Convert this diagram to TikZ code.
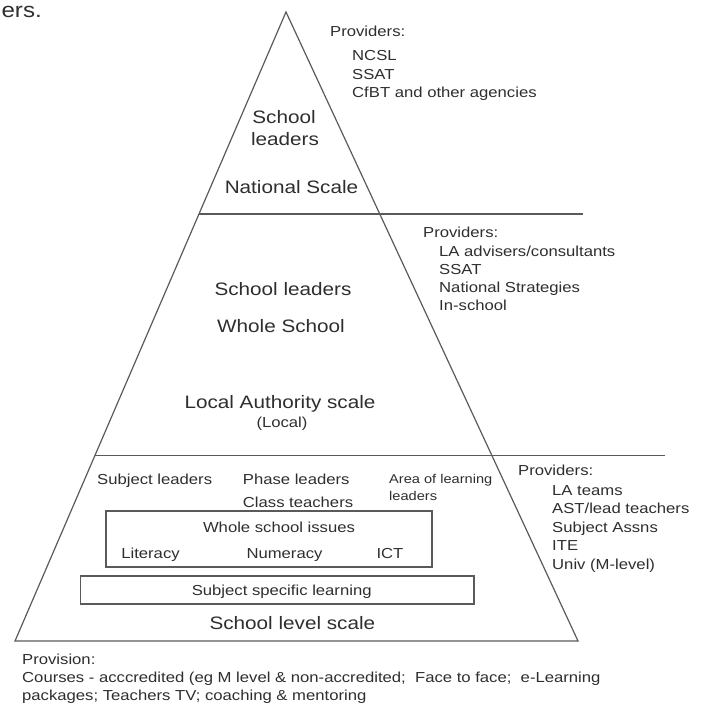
\documentclass[tikz,border=0pt]{standalone}
\usepackage{fontspec}
\setmainfont{Liberation Sans}[FakeStretch=1.15]
\definecolor{ink}{HTML}{2E2E2E}
\definecolor{rulec}{HTML}{5A5A5A}
\begin{document}
\begin{tikzpicture}[x=1pt,y=-1pt,
  edge/.style={draw=rulec, line width=1.2pt, line join=miter},
  sml/.style={font=\fontsize{14.5}{17}\selectfont, text=ink, inner sep=0pt, anchor=base west},
  smc/.style={font=\fontsize{14.5}{17}\selectfont, text=ink, inner sep=0pt, anchor=base},
  lgc/.style={font=\fontsize{18}{21}\selectfont, text=ink, inner sep=0pt, anchor=base},
  arl/.style={font=\fontsize{12.7}{15}\selectfont, text=ink, inner sep=0pt, anchor=base west},
  captxt/.style={font=\fontsize{21}{24}\selectfont, text=ink, inner sep=0pt, anchor=base east}]
\useasboundingbox (0,0) rectangle (704,704);

% pyramid
\coordinate (apex) at (286,12);
\coordinate (bl) at (15,641);
\coordinate (br) at (578,641);
\coordinate (d1l) at (199,214);
\coordinate (d1r) at (583,214);
\coordinate (d2l) at (95,455.5);
\coordinate (d2r) at (665,455.5);
\draw[edge] (apex) -- (bl) -- (br) -- cycle;
\draw[edge] (d1l) -- (d1r);
\draw[edge] (d2l) -- (d2r);

% boxes
\draw[edge, line width=1.1pt] (106,511) rectangle (432,567);
\draw[edge, line width=1.1pt] (80.7,576) rectangle (474,604);

% caption remnant
\node[captxt] (ers) at (42,17) {ers.};

% top tier
\node[sml] (p1) at (330,36) {Providers:};
\node[sml] (p1a) at (352,60) {NCSL};
\node[sml] (p1b) at (352,79) {SSAT};
\node[sml] (p1c) at (352,97) {CfBT and other agencies};
\node[lgc] (t1a) at (284,123) {School};
\node[lgc] (t1b) at (285,145) {leaders};
\node[lgc] (t1c) at (291.5,193) {National Scale};

% middle tier
\node[sml] (p2) at (423,237) {Providers:};
\node[sml] (p2a) at (439,256) {LA advisers/consultants};
\node[sml] (p2b) at (439,274) {SSAT};
\node[sml] (p2c) at (439,292) {National Strategies};
\node[sml] (p2d) at (439,310) {In-school};
\node[lgc] (t2a) at (283,295) {School leaders};
\node[lgc] (t2b) at (281,332) {Whole School};
\node[lgc] (t2c) at (280,408) {Local Authority scale};
\node[smc] (t2d) at (282,427) {(Local)};

% bottom tier
\node[sml] (b1) at (97,484) {Subject leaders};
\node[sml] (b2) at (242.7,484) {Phase leaders};
\node[sml] (b3) at (242.7,507) {Class teachers};
\node[arl] (b4) at (389,483) {Area of learning};
\node[arl] (b5) at (389,500) {leaders};
\node[smc] (w0) at (279,532) {Whole school issues};
\node[smc] (w1) at (150.5,558) {Literacy};
\node[smc] (w2) at (284.5,558) {Numeracy};
\node[smc] (w3) at (390,558) {ICT};
\node[smc] (s0) at (281.7,595) {Subject specific learning};
\node[lgc] (s1) at (292.4,629) {School level scale};

\node[sml] (p3) at (518,475) {Providers:};
\node[sml] (p3a) at (552,495) {LA teams};
\node[sml] (p3b) at (552,513) {AST/lead teachers};
\node[sml] (p3c) at (552,532) {Subject Assns};
\node[sml] (p3d) at (552,550) {ITE};
\node[sml] (p3e) at (552,569) {Univ (M-level)};

% provision
\node[sml] (v0) at (22,664) {Provision:};
\node[sml] (v1) at (22,682) {Courses - acccredited (eg M level \& non-accredited;\ \ Face to face;\ \ e-Learning};
\node[sml] (v2) at (22,700) {packages; Teachers TV; coaching \& mentoring};
\end{tikzpicture}
\end{document}
